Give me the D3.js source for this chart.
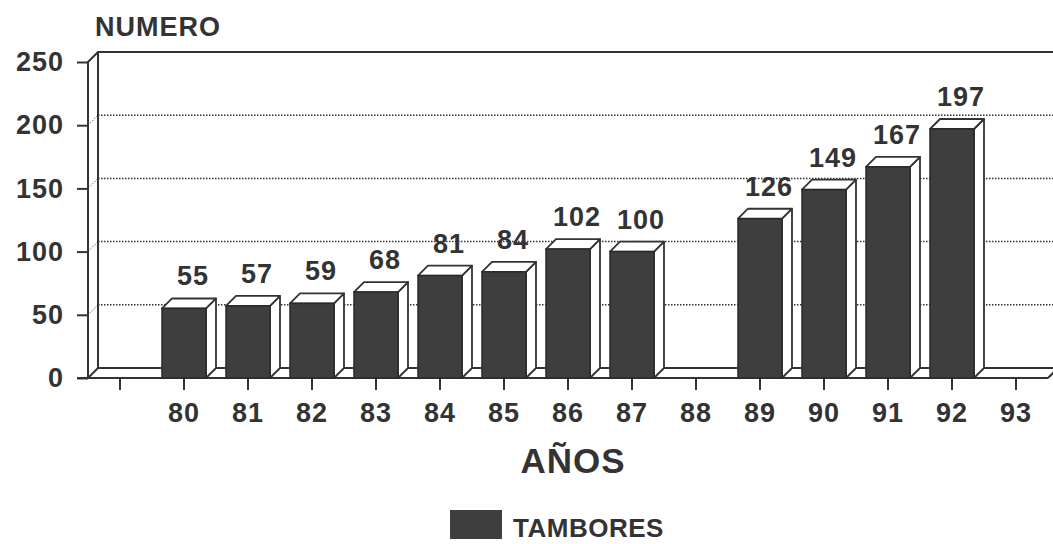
<!DOCTYPE html>
<html>
<head>
<meta charset="utf-8">
<script src="https://cdn.jsdelivr.net/npm/d3@7"></script>
<style>
  html, body { margin: 0; padding: 0; background: #fff; }
  svg text { font-family: "Liberation Sans", Arial, sans-serif; fill: #333; }
</style>
</head>
<body>
<svg id="chart" width="1053" height="544"></svg>
<script>
// data
const years = ["80", "81", "82", "83", "84", "85", "86", "87", "88", "89", "90", "91", "92", "93"];
const tambores = [55, 57, 59, 68, 81, 84, 102, 100, null, 126, 149, 167, 197, null];
const yTicks = [0, 50, 100, 150, 200, 250];
const gridValues = [50, 100, 150, 200];

const ink = "#333";
const barFill = "#3e3e3e";
const depthX = 10, depthY = -10;   // 3d offset of the back wall

const svg = d3.select("#chart");

// one blank slot in front of 80, like the original axis
const x = d3.scaleBand()
  .domain([""].concat(years))
  .range([88, 1048])
  .paddingInner(0);

const y = d3.scaleLinear()
  .domain([0, 250])
  .range([378, 62]);

const x0 = x.range()[0], x1 = x.range()[1];

// back wall gridlines (dotted)
svg.append("g").selectAll("line")
  .data(gridValues)
  .enter()
  .append("line")
  .attr("x1", x0 + depthX)
  .attr("x2", 1053)
  .attr("y1", d => y(d) + depthY)
  .attr("y2", d => y(d) + depthY)
  .attr("stroke", "#333")
  .attr("stroke-width", 1.5)
  .attr("stroke-dasharray", "1.5,1.5");

// little dotted links on the left wall
svg.append("g").selectAll("line")
  .data(gridValues)
  .enter()
  .append("line")
  .attr("x1", x0)
  .attr("x2", x0 + depthX)
  .attr("y1", d => y(d))
  .attr("y2", d => y(d) + depthY)
  .attr("stroke", "#666")
  .attr("stroke-width", 1)
  .attr("stroke-dasharray", "1.5,1.5");

// frame: left wall, back wall top, floor
const frame = svg.append("g")
  .attr("fill", "none")
  .attr("stroke", ink)
  .attr("stroke-width", 2);

frame.append("path")
  .attr("d", `M${x0},${y(0)} L${x0},${y(250)} L${x0 + depthX},${y(250) + depthY} L1053,${y(250) + depthY}`);
frame.append("path")
  .attr("d", `M${x0 + depthX},${y(250) + depthY} L${x0 + depthX},${y(0) + depthY} L1053,${y(0) + depthY}`);
frame.append("path")
  .attr("d", `M${x0},${y(0)} L${x0 + depthX},${y(0) + depthY}`);
frame.append("path")
  .attr("d", `M${x1},${y(0)} L${x1 + depthX},${y(0) + depthY}`);

// y axis
const yAxis = svg.append("g")
  .attr("transform", `translate(${x0},0)`)
  .call(d3.axisLeft(y).tickValues(yTicks).tickSize(11).tickPadding(13));
yAxis.select(".domain").remove();
yAxis.selectAll("line").attr("stroke", ink).attr("stroke-width", 2);
yAxis.selectAll("text")
  .attr("font-size", 27)
  .attr("font-weight", "bold")
  .attr("letter-spacing", 1)
  .attr("fill", ink);

// x axis
const xAxis = svg.append("g")
  .attr("transform", `translate(0,${y(0)})`)
  .call(d3.axisBottom(x).tickSize(12).tickPadding(13));
xAxis.select(".domain")
  .attr("d", `M77,0 H${x1}`)
  .attr("stroke", ink)
  .attr("stroke-width", 2);
xAxis.selectAll("line").attr("stroke", ink).attr("stroke-width", 2);
xAxis.selectAll("text")
  .attr("font-size", 27)
  .attr("font-weight", "bold")
  .attr("letter-spacing", 1)
  .attr("fill", ink);

// 3d bars
const barW = 44;
const rows = years.map((k, i) => ({ year: k, value: tambores[i] })).filter(d => d.value != null);

const bars = svg.append("g").selectAll("g")
  .data(rows)
  .enter()
  .append("g");

bars.each(function (d) {
  const g = d3.select(this);
  const cx = x(d.year) + x.bandwidth() / 2;
  const l = cx - barW / 2, r = cx + barW / 2;
  const t = y(d.value), b = y(0);
  // side
  g.append("path")
    .attr("d", `M${r},${b} L${r},${t} L${r + depthX},${t + depthY} L${r + depthX},${b + depthY} Z`)
    .attr("fill", "#fff").attr("stroke", ink).attr("stroke-width", 1.8).attr("stroke-linejoin", "round");
  // top
  g.append("path")
    .attr("d", `M${l},${t} L${l + depthX},${t + depthY} L${r + depthX},${t + depthY} L${r},${t} Z`)
    .attr("fill", "#fff").attr("stroke", ink).attr("stroke-width", 1.8).attr("stroke-linejoin", "round");
  // front
  g.append("rect")
    .attr("x", l).attr("y", t)
    .attr("width", barW).attr("height", b - t)
    .attr("fill", barFill).attr("stroke", "#2a2a2a").attr("stroke-width", 1.5);
  // value label
  g.append("text")
    .attr("x", cx + 9)
    .attr("y", t + depthY - 13)
    .attr("text-anchor", "middle")
    .attr("font-size", 27)
    .attr("font-weight", "bold")
    .attr("letter-spacing", 1)
    .text(d.value);
});

// titles
svg.append("text")
  .attr("x", 95).attr("y", 36)
  .attr("font-size", 27).attr("font-weight", "bold").attr("letter-spacing", 1)
  .text("NUMERO");

svg.append("text")
  .attr("x", 573).attr("y", 473)
  .attr("text-anchor", "middle")
  .attr("font-size", 35).attr("font-weight", "bold").attr("letter-spacing", 1)
  .text("AÑOS");

// legend
svg.append("rect")
  .attr("x", 450).attr("y", 510)
  .attr("width", 52).attr("height", 29)
  .attr("fill", barFill);
svg.append("text")
  .attr("x", 513).attr("y", 537)
  .attr("font-size", 26).attr("font-weight", "bold").attr("letter-spacing", 0.5)
  .text("TAMBORES");
</script>
</body>
</html>
